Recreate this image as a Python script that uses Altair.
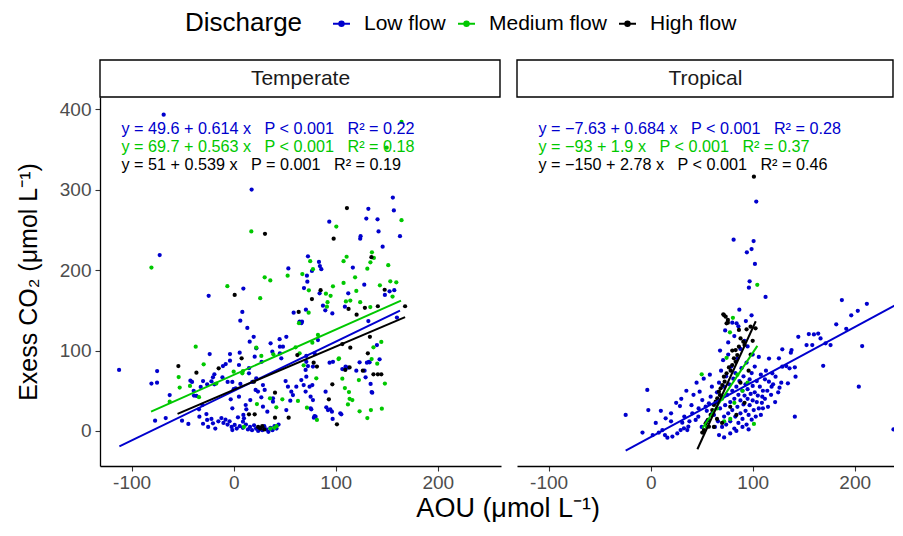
import altair as alt
import pandas as pd

FONT = "Liberation Sans"
panels = ["Temperate", "Tropical"]
flows = ["Low flow", "Medium flow", "High flow"]
flow_colors = ["#0000CD", "#00C800", "#000000"]

# ---------------- Temperate ----------------
temp_low = [
    (-68.6, 393), (17.6, 300), (156, 290), (132, 276), (157, 274), (130, 264), (141, 263), (93.7, 260),
    (124.4, 242), (124, 239), (142, 248), (163, 242), (146, 229), (-72.5, 218.6), (53.6, 202), (72.8, 217),
    (83.6, 210), (84.5, 205), (85.9, 201), (116.8, 203), (76.7, 198.8), (71.8, 193), (72.2, 185.5), (128, 181.8),
    (9.5, 177), (-24.5, 168), (8.5, 148), (58.8, 147), (6.5, 137), (13.4, 128), (68.9, 177.6), (152.8, 173.5),
    (157.4, 175), (148.2, 169), (84.2, 171), (112.3, 171), (87.5, 155.7), (89.8, 150), (109, 154.5), (70.8, 150.7),
    (96.7, 146), (132, 136.6), (160, 141), (67, 135.8), (64.6, 136), (66.3, 134), (51.6, 117), (45, 114),
    (48.3, 104.7), (15.7, 111), (19.6, 117), (22.2, 102.7), (36.2, 109), (45.3, 104.7), (82.6, 113), (140.4, 106.8),
    (-23.5, 95.6),
    (-112.3, 75.8), (-75, 74.5), (-80.6, 59), (-75.1, 60), (-77, 12.8), (-66.6, 16), (-62.7, 44.7), (-50.6, 12.8),
    (-44.4, 8.7), (-42.4, 62.5), (-40.8, 61), (-39.2, 50), (-38.9, 44), (-32.3, 54.7), (-36.5, 43.5), (-30, 62),
    (-26, 58), (-21.8, 61.7), (-18.9, 58), (-30.7, 32.3), (-34, 27), (-33.6, 17.8), (-26.7, 21), (-26, 13.7),
    (-21.8, 15), (-20.3, 9.5), (-20.3, 66.7), (-18.9, 70.4), (-10.5, 80.7), (-7.8, 83.2), (-11, 66.7), (-5.9, 61),
    (-3.6, 95.6), (-3.6, 87.3), (-1.3, 61), (0, 52), (-2.9, 39.4), (-1.3, 28.2), (1, 7.5), (-1.3, 1.2),
    (5.9, 97.3), (5.2, 82), (6.6, 58.4), (2, 53), (5.2, 42.6), (4.2, 17), (9.1, 11.6), (11.8, 32.3),
    (12.4, 27), (9.5, 19.9), (10.1, 15.8),
    (20.6, 92.3), (15, 78), (15, 71.7), (27.4, 86), (37.9, 98.5), (45.3, 96.5), (46.7, 90.3), (18.3, 61),
    (22.2, 65.5), (21.5, 51), (23.8, 49), (16.3, 38.5), (28.7, 57), (30.4, 51), (27.1, 41.9), (28.7, 30.2),
    (33, 24), (38.5, 36.4), (38.5, 40.6), (50.9, 62), (53.2, 55), (55.5, 37.7), (51.6, 26), (56.5, 48.8),
    (58.1, 44.7), (61.4, 55),
    (133.2, 85.3), (130.6, 84.8), (143, 89), (134.2, 58.4), (135.2, 48.4), (123.4, 85.3), (120.2, 75), (129.3, 66.7),
    (94, 84.9), (106.5, 77), (105.5, 20.7), (97, 15), (96.3, 24), (90.8, 29.4), (92.4, 26), (94.7, 27),
    (90.1, 48.8), (78.6, 16.5), (80.3, 17.8), (76.1, 27), (77.7, 38.5), (75.4, 42.6), (77.1, 57), (74.4, 55),
    (71.2, 67.5), (70.5, 75.8), (66.3, 63.3), (79.3, 96.5), (71.2, 93.2), (77.7, 80), (72.8, 80.7), (71.2, 86),
    (68.6, 57), (70.5, 49), (75.4, 28.2), (79.3, 18.6), (104.5, 22), (97.3, 86), (109.7, 80), (112, 78.6),
    (128.3, 75), (135.8, 47.6), (132.5, 86),
    (-15, 12), (-12, 16), (-10, 10), (-8, 14), (-6, 8), (-4, 12), (-2, 5), (3, 3), (6, 6), (9, 4), (12, 8),
    (14, 2), (16, 5), (18, 1), (20, 7), (22, 3), (24, 0), (26, 4), (28, 1), (30, 6), (32, 2), (34, -1),
    (36, 4), (38, 1), (40, 6), (42, 3), (44, 8), (-25, 5), (-30, 9), (-18, 3),
]
temp_med = [
    (164.5, 384), (150, 352), (164.5, 262), (100.6, 254), (17.3, 248), (-80.6, 203), (52.9, 193), (30.4, 191),
    (35.9, 187), (-6.2, 180), (75, 211), (110.7, 216.5), (107.7, 211), (135.5, 222), (137.4, 215), (134, 209.6),
    (131, 201.6), (151.5, 206), (77.7, 201), (67.3, 195), (119, 191), (107.7, 184), (143.3, 181), (153.5, 186),
    (159.4, 184.7),
    (26, 165), (64, 134), (73.7, 174.8), (97.3, 179.7), (155.7, 167), (90.4, 170.6), (95, 168), (120.2, 174),
    (110, 161), (114.3, 162), (124, 160), (92, 160), (91.4, 154.5), (133.9, 154), (73.5, 147), (-37.2, 104.7),
    (22.2, 103.5), (82.6, 119.3), (77.1, 109.7), (144.7, 110.6), (137, 104), (60.7, 104),
    (-53.9, 67), (-52.9, 54), (-62.7, 36.4), (-42.8, 56), (-34, 42), (-29.4, 82.9), (-17, 59), (0, 73.7),
    (9.1, 74.5), (8.5, 71.7), (27.1, 93.2), (38.9, 95.3), (22.8, 33.5), (35.6, 40.6), (41.8, 29.4), (47.7, 39.4),
    (63, 37.3), (64.6, 96.5), (68.6, 81.6), (81, 65.5), (71.8, 29), (81.6, 13.7), (102.8, 89.4), (106.5, 65),
    (109, 53.4), (113, 48.4), (113.6, 40), (116.3, 38.5), (112, 33), (122.7, 63.3), (135.2, 89.4), (140.7, 83.6),
    (148.2, 59), (134.5, 26), (145.2, 27.7), (131, 16), (123.4, 24.5), (103.2, 90.3),
    (36, 3), (40, 4), (42, 6), (10, 5),
]
temp_high = [
    (111, 277), (30.7, 245), (98, 239), (135, 216), (1, 169), (63.7, 148), (148, 175.5), (85.2, 175),
    (76.7, 164), (112.6, 151.6), (128.6, 153), (141.3, 155), (168, 155), (120.5, 144.5), (133.5, 117), (114.3, 103.5),
    (106.5, 108),
    (-54.2, 80.7), (-36.5, 72.5), (-14.7, 77.9), (7.8, 90.3), (19.9, 61.3), (40.5, 47.6), (62.4, 94.4), (78.4, 84.9),
    (81.6, 80), (96.7, 58), (93.3, 39.4), (101.2, 8.3), (109.4, 75.8), (113.6, 79), (126.6, 75), (131.5, 96.5),
    (137, 70.4), (141.3, 70.4), (144.7, 70.4),
    (24, 5), (26, 3), (28, 6), (15, 20.7), (20.6, 20.7), (40.5, 16.5), (53.9, 16.5), (30, 2),
]

# ---------------- Tropical ----------------
trop_low = [
    (103.5, 285), (81.3, 237.7), (100.9, 236), (98.9, 226), (94.3, 222), (102.2, 207.5), (97, 186), (96.3, 178),
    (112.6, 166.5), (86.9, 150.7), (98.9, 143.7), (93.3, 136.6), (80, 134.5), (84.2, 133.8),
    (187.4, 162.7), (211.9, 158), (203, 149.4), (196.6, 143.7), (181.9, 132.5), (191.7, 127), (144.7, 117), (160, 120),
    (164.2, 121), (166.5, 115), (155, 120.5), (152.8, 106.8), (158.4, 106.8), (171.4, 109), (176.3, 106.8), (207.3, 105.6),
    (169.1, 81), (129, 101.5), (138.1, 100.6), (137.4, 97.3), (125.7, 90.3), (129, 79.9), (132.9, 80.7), (136.1, 77.9),
    (141.3, 79.1), (142, 67.5), (134.5, 59.2), (126.3, 53.8), (122.4, 67.5), (119.2, 71.7), (115.9, 61.3), (112, 64.2),
    (118.5, 55), (114.3, 50), (109.4, 42.6), (110, 28.2), (204, 55), (141.3, 17.8), (238, 2),
    (-24.5, 20), (-3.3, 51), (-2.3, 26), (11.5, 1.2), (14, -5), (16.4, -8.3), (21.3, -7), (26.1, -3),
    (29.4, 1.2), (32.6, 3.3), (35.9, 1.2), (36.9, 5.3), (31, 10.3), (28.7, 31), (14.7, 15.8), (40.8, 22),
    (44.1, 13.7), (46.7, 17.8), (48, 48.8), (50.6, 38.5), (53.9, 30.2), (57.1, 34.4), (58.8, 42.6), (60.4, 22),
    (5, 10), (20, 12), (8, -2), (2, -5), (-8, -2), (30, 40), (35, 50), (25, 35), (40, 32), (45, 60),
    (52, 65), (20, 22), (10, 25), (38, 12), (47, 28), (33, 18), (50, 5), (55, 12), (42, 45),
    (62, 20), (64, 35), (65, 48), (66, 12), (67, 60), (68, 28), (69, 75), (70, 5), (70, 42), (71, 88),
    (72, 18), (72, 55), (73, 32), (74, 68), (74, 8), (75, 45), (76, 22), (76, 95), (77, 58), (78, 36),
    (78, 12), (79, 80), (80, 50), (80, 26), (81, 65), (82, 40), (82, 3), (83, 18), (83, 72), (84, 55),
    (85, 30), (85, 90), (86, 45), (86, 10), (87, 62), (88, 22), (88, 38), (89, 78), (90, 50), (90, 15),
    (91, 33), (91, 68), (92, 44), (93, 25), (93, 58), (94, 8), (94, 85), (95, 40), (95, 52), (96, 20),
    (97, 64), (97, 32), (98, 46), (99, 14), (99, 72), (100, 38), (100, 56), (101, 26), (102, 48), (102, 80),
    (103, 18), (104, 62), (104, 36), (105, 44), (106, 28), (107, 55), (108, 70), (108, 20), (109, 35), (110, 50),
    (112, 40), (113, 75), (115, 30), (116, 90), (118, 45), (120, 58), (122, 36), (125, 48), (128, 60), (76, 110),
    (82, 118), (88, 102), (92, 112), (68, 100), (73, 125), (86, 130), (95, 105), (100, 95), (106, 92), (60, 55),
    (58, 70), (55, 25), (63, 5), (67, -5), (72, -8), (78, -3), (84, 0), (90, 5), (96, 2),
]
trop_med = [
    (104.5, 181.7), (80.6, 140.7), (77.7, 122.6), (50, 70.4), (101.2, 8.7), (74.4, 91), (85, 70), (70, 40),
    (60, 20), (78, 15), (90, 50), (55, 5), (65, 28), (82, 35), (95, 60), (72, 12),
]
trop_high = [
    (101.2, 316), (71.2, 145), (73.5, 142), (75.7, 138), (74.4, 133.8), (86.5, 125.5), (94, 126.3), (97.9, 129.6),
    (102.8, 127.6), (71.8, 144), (75.7, 134.5), (88.1, 115), (90.8, 111), (92, 107), (86.5, 104.7), (83.3, 100.6),
    (84.9, 94.4), (81.6, 90.3), (83.3, 86), (80, 82), (76.7, 79), (78.4, 75), (74.4, 71.7), (71.8, 67.5),
    (72.5, 61.3), (70.2, 57), (68.6, 53), (66.9, 48.8), (67.9, 44.7), (65.3, 40.6), (63.7, 36.4), (62, 32.3),
    (60.4, 26), (58.8, 19.9), (56.1, 13.7), (53.9, 9.5), (57.1, 5.3), (52.2, 1.2), (50.6, -2),
    (78, 30), (84, 20), (88, 60), (92, 35), (96, 75), (70, 10), (62, 5), (80, 100), (98, 95), (100, 112), (65, 15),
]

# Fitted regressions: intercept, slope, fitted x-range (per panel, per flow)
fit_intercept = {"Temperate": [49.6, 69.7, 51], "Tropical": [-7.63, -93, -150]}
fit_slope = {"Temperate": [0.614, 0.563, 0.539], "Tropical": [0.684, 1.9, 2.78]}
fit_xmin = {"Temperate": [-112, -81, -55], "Tropical": [-24.5, 50.7, 45.8]}
fit_xmax = {"Temperate": [163, 164, 168], "Tropical": [255, 104.6, 103]}

eq_labels = {
    "Temperate": ["y = 49.6 + 0.614 x", "y = 69.7 + 0.563 x", "y = 51 + 0.539 x"],
    "Tropical": ["y = \u22127.63 + 0.684 x", "y = \u221293 + 1.9 x", "y = \u2212150 + 2.78 x"],
}
p_labels = {
    "Temperate": ["P < 0.001", "P < 0.001", "P = 0.001"],
    "Tropical": ["P < 0.001", "P < 0.001", "P < 0.001"],
}
r2_labels = {
    "Temperate": ["0.22", "0.18", "0.19"],
    "Tropical": ["0.28", "0.37", "0.46"],
}

x_ticks = [-100, 0, 100, 200]
y_ticks = [0, 100, 200, 300, 400]

SP = "\u00a0\u00a0\u00a0"

points_data = {"Temperate": [temp_low, temp_med, temp_high], "Tropical": [trop_low, trop_med, trop_high]}

# colour scale for the lines (carries the legend); a separately-ordered fill scale for points/text
color_scale = alt.Scale(domain=flows, range=flow_colors)
fill_scale = alt.Scale(domain=flows[::-1], range=flow_colors[::-1])
Y_DOMAIN = [-43.5, 415]

LEGEND = alt.Legend(
    title="Discharge", orient="none", legendX=85, legendY=-84, direction="horizontal",
    titleOrient="left", titleFontSize=26, titleFont=FONT, titleFontWeight="normal",
    titleColor="black", titlePadding=28, labelFontSize=21, labelFont=FONT, labelColor="black",
    symbolType="M-1,0H1M0.25,0A0.25,0.25,0,1,1,-0.25,0A0.25,0.25,0,1,1,0.25,0",
    symbolSize=289, symbolStrokeWidth=2.2, labelOffset=12, columnPadding=7,
)


def build_panel(name, width, xdomain, show_y):
    rows = []
    for f, pts in zip(flows, points_data[name]):
        for (x, y) in pts:
            rows.append({"x": x, "y": y, "flow": f})
    pdf = pd.DataFrame(rows)

    lrows = []
    for i, f in enumerate(flows):
        for xx in (fit_xmin[name][i], fit_xmax[name][i]):
            lrows.append({"x": xx, "y": fit_intercept[name][i] + fit_slope[name][i] * xx, "flow": f})
    ldf = pd.DataFrame(lrows)

    erows = []
    for i, f in enumerate(flows):
        txt = eq_labels[name][i] + SP + p_labels[name][i] + SP + "R\u00b2 = " + r2_labels[name][i]
        erows.append({"x": -110, "y": 375 - 22 * i, "flow": f, "label": txt})
    edf = pd.DataFrame(erows)

    xscale = alt.Scale(domain=xdomain, nice=False, zero=False)
    yscale = alt.Scale(domain=Y_DOMAIN, nice=False, zero=False)
    xaxis = alt.Axis(values=x_ticks, title=None, labelExpr="'' + datum.value", labelPadding=2)
    if show_y:
        yaxis = alt.Axis(values=y_ticks, title="Exess CO\u2082 (\u03bcmol L\u207b\u00b9)",
                         labelPadding=4, titlePadding=18)
    else:
        yaxis = None

    X = alt.X("x:Q", scale=xscale, axis=xaxis)
    Y = alt.Y("y:Q", scale=yscale, axis=yaxis)

    pts = alt.Chart(pdf).mark_circle(size=18, opacity=1, clip=True).encode(
        x=X, y=Y, fill=alt.Fill("flow:N", scale=fill_scale, legend=None)
    )
    col = alt.Color("flow:N", scale=color_scale, legend=LEGEND, sort=flows)
    lines = alt.Chart(ldf).mark_line(strokeWidth=2, clip=True).encode(x=X, y=Y, color=col)
    eqs = alt.Chart(edf).mark_text(align="left", baseline="middle", fontSize=16.2, font=FONT).encode(
        x=X, y=Y, text="label:N", fill=alt.Fill("flow:N", scale=fill_scale, legend=None)
    )
    sdf = pd.DataFrame({"panel": [name]})
    strip = alt.Chart(sdf).mark_rect(fill="white", stroke="black", strokeWidth=1.4).encode(
        x=alt.value(0), x2=alt.value(width - 1), y=alt.value(-37), y2=alt.value(0)
    )
    stext = alt.Chart(sdf).mark_text(fontSize=21, font=FONT, color="#1A1A1A", baseline="middle").encode(
        x=alt.value(width / 2), y=alt.value(-18.5), text="panel:N"
    )
    return alt.layer(pts, lines, eqs, strip, stext).properties(width=width, height=369)


left = build_panel("Temperate", 401, [-131, 262], True)
right = build_panel("Tropical", 377, [-131, 238.5], False)

chart = alt.hconcat(left, right, spacing=15).properties(
    title=alt.TitleParams(
        "AOU (\u03bcmol L\u207b\u00b9)", orient="bottom", anchor="middle", fontSize=27, font=FONT,
        fontWeight="normal", color="black", dx=53, offset=4,
    ),
    padding={"left": 8, "top": 5, "right": 0, "bottom": 0},
).configure_view(strokeWidth=0).configure_axis(
    grid=False, domainColor="black", domainWidth=1.3, tickColor="#333333", tickSize=5, tickWidth=1.1,
    labelColor="#4D4D4D", labelFontSize=19, labelFont=FONT,
    titleFont=FONT, titleFontSize=25, titleFontWeight="normal", titleColor="black",
)

chart.save("out.html", embed_options={"renderer": "svg", "actions": False})
